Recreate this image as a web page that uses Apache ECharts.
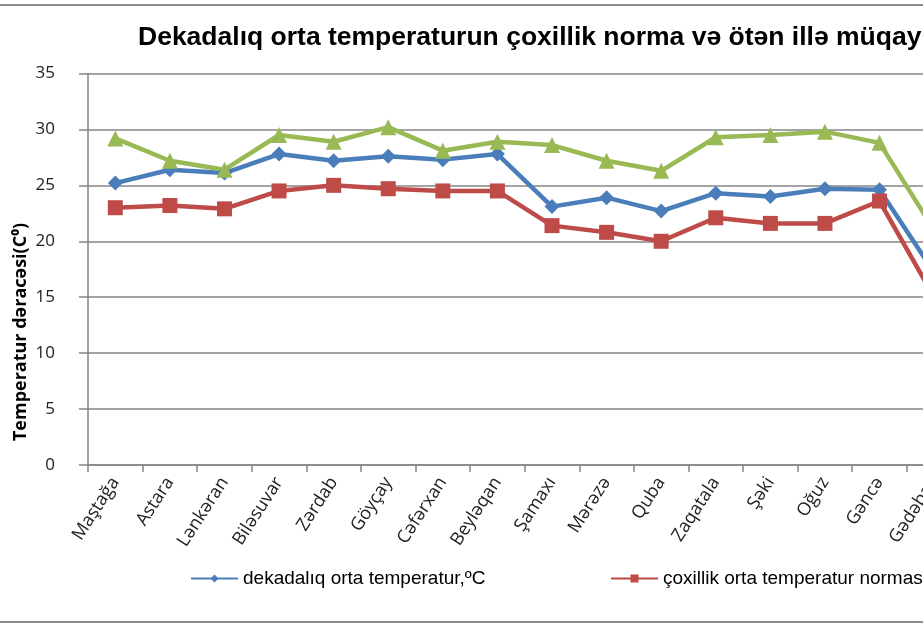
<!DOCTYPE html>
<html>
<head>
<meta charset="utf-8">
<script src="https://cdn.jsdelivr.net/npm/echarts@6/dist/echarts.min.js"></script>
<style>
  html, body { margin: 0; padding: 0; overflow: hidden; background: #fff; }
  #chart { width: 1100px; height: 630px; }
</style>
</head>
<body>
<div id="chart"></div>
<script>
// stations (the picture is cut off on the right after Gədəbəy)
var stations = ['Maştağa', 'Astara', 'Lənkəran', 'Biləsuvar', 'Zərdab', 'Göyçay', 'Cəfərxan', 'Beyləqan',
  'Şamaxı', 'Mərəzə', 'Quba', 'Zaqatala', 'Şəki', 'Oğuz', 'Gəncə', 'Gədəbəy'];

var dekadaTemp = [25.2, 26.4, 26.1, 27.8, 27.2, 27.6, 27.3, 27.8, 23.1, 23.9, 22.7, 24.3, 24.0, 24.7, 24.6, 17.2];
var normaTemp = [23.0, 23.2, 22.9, 24.5, 25.0, 24.7, 24.5, 24.5, 21.4, 20.8, 20.0, 22.1, 21.6, 21.6, 23.6, 15.0];
var otenIlTemp = [29.2, 27.2, 26.4, 29.5, 28.9, 30.2, 28.1, 28.9, 28.6, 27.2, 26.3, 29.3, 29.5, 29.8, 28.8, 21.0];

var seriesNames = ['dekadalıq orta temperatur,ºC', 'çoxillik orta temperatur norması,ºC', 'ötən ilin dekadalıq orta temperaturu,ºC'];
var yTicks = { min: 0, max: 35, step: 5 };

var chart = echarts.init(document.getElementById('chart'));

var legendText = { fontFamily: 'Liberation Sans, Arial, sans-serif', fontSize: 19, color: '#000' };

function lineSeries(name, data, color, symbol, size) {
  return {
    name: name,
    type: 'line',
    data: data,
    symbol: symbol,
    symbolSize: size,
    lineStyle: { color: color, width: 4.5 },
    itemStyle: { color: color },
    z: 3
  };
}

var option = {
  backgroundColor: '#fff',
  animation: false,
  title: {
    text: 'Dekadalıq orta temperaturun çoxillik norma və ötən illə müqayisəsi',
    left: 133,
    top: 19,
    textStyle: { fontFamily: 'Liberation Sans, Arial, sans-serif', fontWeight: 'bold', fontSize: 26.5, color: '#000' }
  },
  legend: [
    { data: [seriesNames[0]], left: 185, top: 564, itemWidth: 47, itemHeight: 10, itemGap: 4, textStyle: legendText },
    { data: [seriesNames[1]], left: 605, top: 564, itemWidth: 47, itemHeight: 10, itemGap: 4, textStyle: legendText },
    { data: [seriesNames[2]], left: 1045, top: 564, itemWidth: 47, itemHeight: 10, itemGap: 4, textStyle: legendText }
  ],
  grid: { left: 88, top: 73.5, width: 928, height: 391.5, containLabel: false },
  xAxis: {
    type: 'category',
    data: stations.concat(['']),
    boundaryGap: true,
    axisLine: { lineStyle: { color: '#868686', width: 1.5 } },
    axisTick: { show: true, alignWithLabel: false, length: 7, lineStyle: { color: '#868686', width: 1.5 } },
    axisLabel: {
      rotate: 57,
      margin: 14,
      interval: 0,
      fontFamily: 'Open Sans, Noto Sans, sans-serif',
      fontSize: 18,
      color: '#222'
    },
    splitLine: { show: false }
  },
  yAxis: {
    type: 'value',
    min: yTicks.min,
    max: yTicks.max,
    interval: yTicks.step,
    axisLine: { show: true, lineStyle: { color: '#868686', width: 1.5 } },
    axisTick: { show: true, length: 9, lineStyle: { color: '#868686', width: 1.5 } },
    axisLabel: { margin: 33, fontFamily: 'Open Sans, Noto Sans, sans-serif', fontSize: 17, color: '#222' },
    splitLine: { lineStyle: { color: '#868686', width: 1.5 } }
  },
  graphic: [
    {
      type: 'rect',
      silent: true,
      shape: { x: -5, y: 5, width: 2000, height: 617 },
      style: { fill: 'none', stroke: '#8c8c8c', lineWidth: 2 },
      z: -1
    },
    {
      type: 'text',
      x: 21,
      y: 332,
      rotation: Math.PI / 2,
      style: {
        text: 'Temperatur dəracəsi(C⁰)',
        font: 'bold 18px "Open Sans", "Noto Sans", sans-serif',
        fill: '#000',
        align: 'center',
        verticalAlign: 'middle'
      }
    }
  ],
  series: [
    lineSeries(seriesNames[0], dekadaTemp, '#4a7ebb', 'diamond', 15),
    lineSeries(seriesNames[1], normaTemp, '#be4b48', 'rect', 15),
    lineSeries(seriesNames[2], otenIlTemp, '#98b954', 'triangle', 16)
  ]
};

chart.setOption(option);
</script>
</body>
</html>
